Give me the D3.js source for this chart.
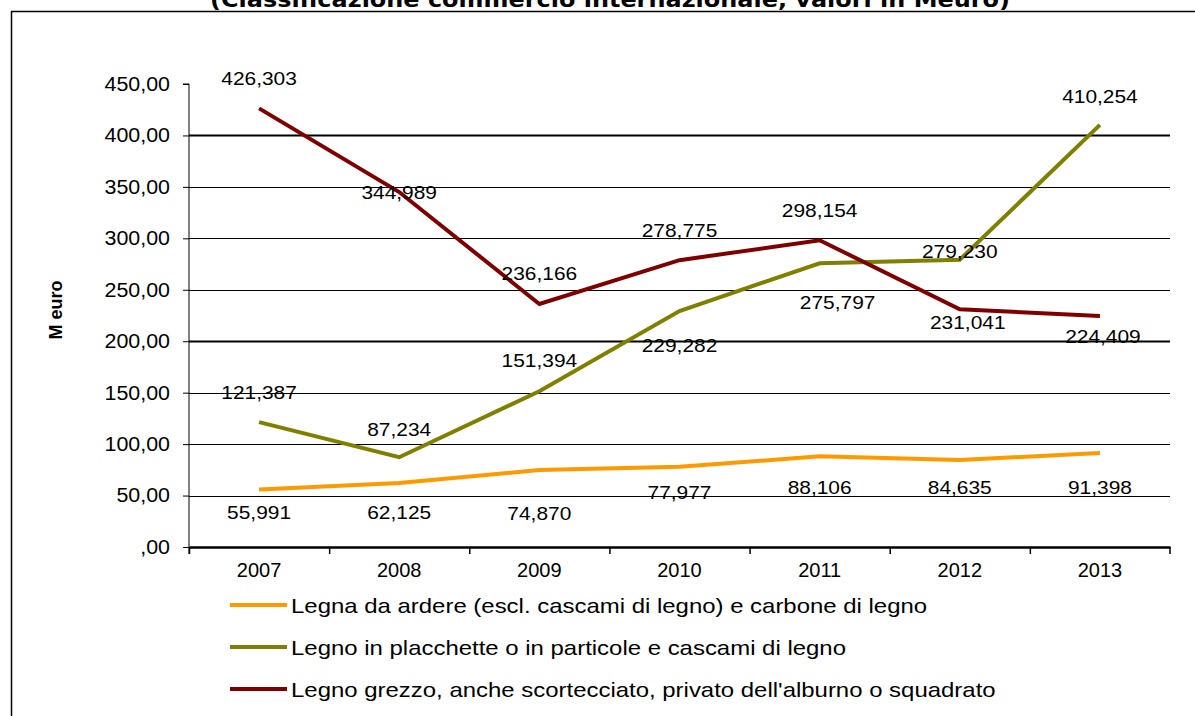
<!DOCTYPE html>
<html>
<head>
<meta charset="utf-8">
<script src="https://cdn.jsdelivr.net/npm/d3@7"></script>
<style>
  body { margin: 0; background: #fff; }
  svg { display: block; font-family: "Liberation Sans", Arial, sans-serif; }
</style>
</head>
<body>
<svg id="chart" width="1195" height="716"></svg>
<script>
const years = ["2007", "2008", "2009", "2010", "2011", "2012", "2013"];
const legnaArdere = [55.991, 62.125, 74.870, 77.977, 88.106, 84.635, 91.398];
const legnoPlacchette = [121.387, 87.234, 151.394, 229.282, 275.797, 279.230, 410.254];
const legnoGrezzo = [426.303, 344.989, 236.166, 278.775, 298.154, 231.041, 224.409];
const yTicks = [0, 50, 100, 150, 200, 250, 300, 350, 400, 450];
const seriesNames = [
    "Legna da ardere (escl. cascami di legno) e carbone di legno",
    "Legno in placchette o in particole e cascami di legno",
    "Legno grezzo, anche scortecciato, privato dell'alburno o squadrato"
];
const title = "(Classificazione commercio internazionale, valori in Meuro)";
const yTitle = "M euro";

const colors = ["#ff9900", "#808000", "#800000"];

// label placement (pixels from the point), by series then by year
const labelDy = [
    [23, 29, 43, 26, 31, 27, 34],
    [-30, -28, -31, 34, 39, -8, -29],
    [-30, 0, -31, -30, -30, 13, 20]
];
const labelDx = [
    [0, 0, 0, 0, 0, 0, 0],
    [0, 0, 0, 0, 18, 0, 0],
    [0, 0, 0, 0, 0, 8, 3]
];

const margin = { top: 84, right: 25, bottom: 169, left: 189 };
const W = 1195, H = 716;

const svg = d3.select("#chart");

// frame
svg.append("rect")
    .attr("x", 11.5).attr("y", 11.5)
    .attr("width", W + 20).attr("height", H + 20)
    .attr("fill", "none").attr("stroke", "#000").attr("stroke-width", 1.5);

svg.append("text")
    .attr("x", 610).attr("y", 7)
    .attr("text-anchor", "middle")
    .attr("textLength", 800)
    .attr("lengthAdjust", "spacingAndGlyphs")
    .style("font-family", "'DejaVu Sans', Verdana, sans-serif")
    .style("font-weight", "bold")
    .style("font-size", "22px")
    .text(title);

const x = d3.scaleBand()
    .domain(years)
    .range([margin.left, W - margin.right]);

const y = d3.scaleLinear()
    .domain([0, 450])
    .range([H - margin.bottom, margin.top]);

const fmt = v => v === 0 ? ",00" : v.toFixed(2).replace(".", ",");
const fmt3 = v => v.toFixed(3).replace(".", ",");

// gridlines
svg.append("g")
    .attr("class", "grid")
    .selectAll("line")
    .data(yTicks.filter(d => d > 0 && d < 450))
    .join("line")
    .attr("x1", margin.left).attr("x2", W - margin.right)
    .attr("y1", d => Math.round(y(d)) + 0.5).attr("y2", d => Math.round(y(d)) + 0.5)
    .attr("stroke", "#000")
    .attr("stroke-width", d => d === 400 || d === 200 ? 2 : 1.1);

// y axis
const yAxis = d3.axisLeft(y)
    .tickValues(yTicks)
    .tickSize(6)
    .tickPadding(13)
    .tickFormat(fmt);
svg.append("g")
    .attr("class", "y-axis")
    .attr("transform", `translate(${margin.left},0)`)
    .call(yAxis)
    .call(g => g.select(".domain").attr("d", `M-6,${y(450)}H0V${y(0) + 7}`))
    .call(g => g.selectAll("text")
        .attr("class", "stretch")
        .attr("data-k", 1.07)
        .style("font-size", "20px")
        .style("font-family", "'Liberation Sans', Arial, sans-serif")
        .attr("fill", "#000"));

// x axis
const xAxis = d3.axisBottom(x).tickSize(0).tickPadding(16);
svg.append("g")
    .attr("class", "x-axis")
    .attr("transform", `translate(0,${y(0)})`)
    .call(xAxis)
    .call(g => g.select(".domain").attr("stroke-width", 2.5))
    .call(g => g.selectAll("text")
        .style("font-size", "20px")
        .style("font-family", "'Liberation Sans', Arial, sans-serif")
        .attr("fill", "#000"));

// category separators
svg.append("g")
    .selectAll("line")
    .data(years)
    .join("line")
    .attr("x1", d => x(d) + 0.5).attr("x2", d => x(d) + 0.5)
    .attr("y1", y(0)).attr("y2", y(0) + 7)
    .attr("stroke", "#000").attr("stroke-width", 1.5);
svg.append("line")
    .attr("x1", W - margin.right).attr("x2", W - margin.right)
    .attr("y1", y(0)).attr("y2", y(0) + 7)
    .attr("stroke", "#000").attr("stroke-width", 1.5);

// y title
svg.append("text")
    .attr("transform", `translate(62,310) rotate(-90)`)
    .attr("text-anchor", "middle")
    .style("font-size", "18px")
    .style("font-weight", "bold")
    .text(yTitle);

const allSeries = [legnaArdere, legnoPlacchette, legnoGrezzo];

const line = d3.line()
    .x((d, i) => x(years[i]) + x.bandwidth() / 2)
    .y(d => y(d));

svg.append("g")
    .selectAll("path")
    .data(allSeries)
    .join("path")
    .attr("d", line)
    .attr("fill", "none")
    .attr("stroke", (d, i) => colors[i])
    .attr("stroke-width", 4)
    .attr("stroke-linejoin", "miter");

// data labels
allSeries.forEach((s, si) => {
    svg.append("g")
        .attr("class", "labels")
        .selectAll("text")
        .data(s)
        .join("text")
        .attr("class", "stretch")
        .attr("data-k", 1.1)
        .attr("x", (d, i) => x(years[i]) + x.bandwidth() / 2 + labelDx[si][i])
        .attr("y", (d, i) => y(d) + labelDy[si][i])
        .attr("dy", "0.35em")
        .attr("text-anchor", "middle")
        .style("font-size", "19px")
        .attr("fill", "#000")
        .text(fmt3);
});

// legend
const legend = svg.append("g")
    .selectAll("g")
    .data(seriesNames)
    .join("g")
    .attr("transform", (d, i) => `translate(230,${605 + i * 42})`);
legend.append("line")
    .attr("x1", 0).attr("x2", 57)
    .attr("stroke", (d, i) => colors[i])
    .attr("stroke-width", 4);
legend.append("text")
    .attr("class", "stretch")
    .attr("data-k", 1.14)
    .attr("x", 61)
    .attr("dy", "0.36em")
    .style("font-size", "21px")
    .attr("fill", "#000")
    .text(d => d);

// the reference text is a little wider than the font draws it
svg.selectAll("text.stretch").each(function () {
    const len = this.getComputedTextLength();
    const k = +this.getAttribute("data-k") || 1.1;
    d3.select(this)
        .attr("textLength", len * k)
        .attr("lengthAdjust", "spacingAndGlyphs");
});
</script>
</body>
</html>
